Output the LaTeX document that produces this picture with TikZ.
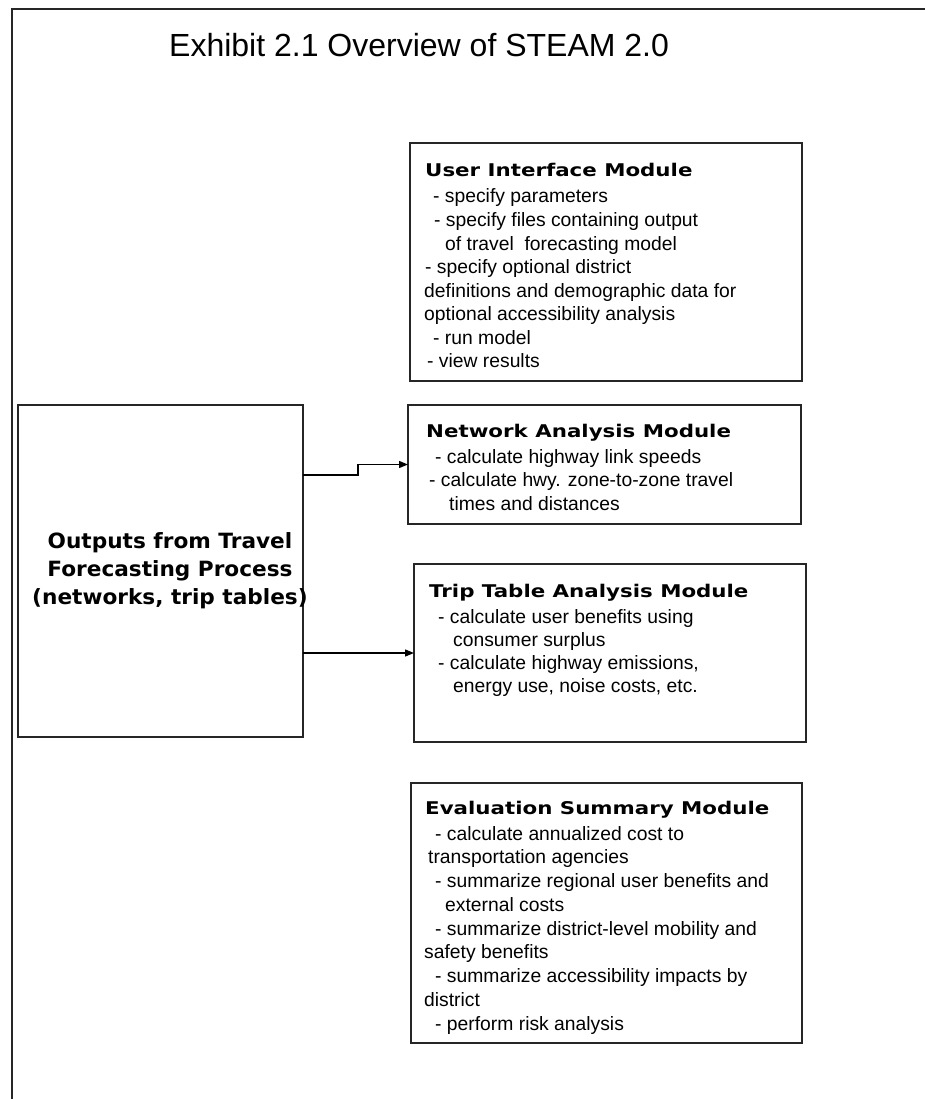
\documentclass[tikz,border=0pt]{standalone}
\usepackage{fontspec}
\setmainfont{Liberation Sans}
\newfontfamily\modfont{DejaVu Sans Bold}[FakeStretch=1.22]
\newfontfamily\srcfont{DejaVu Sans Bold}[FakeStretch=1.03]
\usetikzlibrary{arrows.meta}
\newcommand\Ln[2]{\hbox{\kern#1pt\relax #2}}
\newcommand\Mt[2]{\hbox{\kern#1pt\relax\modfont\fontsize{17.5}{21}\selectfont #2}}
\tikzset{
  modbox/.style={draw=black!85, line width=1.5pt, inner sep=0pt, outer sep=0pt},
  frameline/.style={draw=black!85, line width=2pt},
  arr/.style={draw=black, line width=1.3pt, -{Triangle[length=9pt,width=7pt]}},
  body/.style={anchor=base west, inner sep=0pt, font=\fontsize{19.3}{23}\selectfont},
}
\begin{document}
\begin{tikzpicture}[x=1pt,y=-1pt]
\useasboundingbox (0,0) rectangle (925,1099);
% frame
\coordinate (fa) at (12,1105);
\coordinate (fb) at (12,9);
\coordinate (fc) at (930,9);
\draw[frameline] (fa) -- (fb) -- (fc);
% title
\node[anchor=base west, inner sep=0pt, font=\fontsize{32}{36}\selectfont] (title) at (169,57) {Exhibit 2.1 Overview of STEAM 2.0};
% boxes
\node[modbox, minimum width=285pt, minimum height=332pt] (src) at (160.5,571) {};
\node[modbox, minimum width=392pt, minimum height=238pt] (ui) at (606,262) {};
\node[modbox, minimum width=393pt, minimum height=119pt] (net) at (604.5,464.5) {};
\node[modbox, minimum width=392pt, minimum height=178pt] (trip) at (610,653) {};
\node[modbox, minimum width=391pt, minimum height=260pt] (eval) at (606.5,913) {};
% source text
\node[align=center, inner sep=0pt, font=\srcfont\fontsize{21}{28}\selectfont] (srct) at (170,571) {Outputs from Travel\\Forecasting Process\\(networks, trip tables)};
% UI text
\node[body] (uit) at (424,177) {\vtop{\baselineskip=23.57pt\lineskiplimit=-20pt
  \Mt{1}{User Interface Module}\kern2.4pt
  \Ln{9}{- specify parameters}
  \Ln{10}{- specify files containing output}
  \Ln{21}{of travel~ forecasting model}
  \Ln{1}{- specify optional district}
  \Ln{0}{definitions and demographic data for}
  \Ln{0}{optional accessibility analysis}
  \Ln{9}{- run model}
  \Ln{3}{- view results}}};
% Network text
\node[body] (nett) at (426,437) {\vtop{\baselineskip=23.5pt\lineskiplimit=-20pt
  \Mt{0}{Network Analysis Module}\kern2.5pt
  \Ln{9}{- calculate highway link speeds}
  \Ln{3}{- calculate hwy. zone-to-zone travel}
  \Ln{23}{times and distances}}};
% Trip text
\node[body] (tript) at (429,597) {\vtop{\baselineskip=23.3pt\lineskiplimit=-20pt
  \Mt{0}{Trip Table Analysis Module}\kern2.7pt
  \Ln{9}{- calculate user benefits using}
  \Ln{24}{consumer surplus}
  \Ln{9}{- calculate highway emissions,}
  \Ln{24}{energy use, noise costs, etc.}}};
% Evaluation text
\node[body] (evalt) at (424,814) {\vtop{\baselineskip=23.75pt\lineskiplimit=-20pt
  \Mt{1}{Evaluation Summary Module}\kern2.25pt
  \Ln{11}{- calculate annualized cost to}
  \Ln{4}{transportation agencies}
  \Ln{11}{- summarize regional user benefits and}
  \Ln{21}{external costs}
  \Ln{11}{- summarize district-level mobility and}
  \Ln{0}{safety benefits}
  \Ln{11}{- summarize accessibility impacts by}
  \Ln{0}{district}
  \Ln{11}{- perform risk analysis}}};
% connectors
\coordinate (j1) at (358,475);
\draw[arr] (src.east |- j1) -- (j1) |- (net.west);
\draw[arr] (src.east |- trip.west) -- (trip.west);
\end{tikzpicture}
\end{document}
